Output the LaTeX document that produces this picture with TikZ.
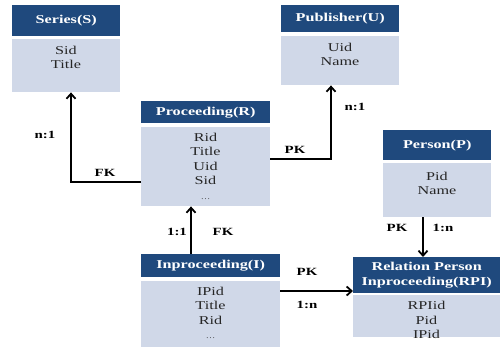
\documentclass[tikz,border=0pt]{standalone}
\usepackage{fontspec}
\setmainfont{Liberation Serif}[FakeStretch=1.35]
\usetikzlibrary{calc,arrows.meta}

\definecolor{hdrblue}{RGB}{31,73,125}
\definecolor{bodygray}{RGB}{208,216,232}

\tikzset{
	hdr/.style={fill=hdrblue, text=white, font=\bfseries\fontsize{12}{14.5}\selectfont, anchor=north west, inner sep=0pt, align=center},
	bodybox/.style={fill=bodygray, anchor=north west, inner sep=0pt},
	fields/.style={text=black!85, font=\fontsize{12}{14.5}\selectfont, align=center, inner sep=0pt},
	rel/.style={black, line width=1.8pt, -{Straight Barb[length=5pt,width=9pt]}},
	card/.style={font=\bfseries\fontsize{11}{13}\selectfont, inner sep=0pt}
}

\begin{document}
\begin{tikzpicture}[x=1pt, y=-1pt]
	
	\useasboundingbox (0,0) rectangle (502,349);
	
	% Series
	\node[hdr, minimum width=108pt, minimum height=31pt] (series) at (12,5) {Series(S)};
	\node[bodybox, minimum width=108pt, minimum height=53pt] (seriesbody) at (12,39) {};
	\node[fields] (seriestxt) at (66,57.5) {Sid\\Title};
	
	% Publisher
	\node[hdr, minimum width=118pt, minimum height=27pt] (pub) at (281,5) {Publisher(U)};
	\node[bodybox, minimum width=118pt, minimum height=49pt] (pubbody) at (281,36) {};
	\node[fields] (pubtxt) at (340,54.5) {Uid\\Name};
	
	% Proceeding
	\node[hdr, minimum width=129pt, minimum height=22pt] (proc) at (141,101) {Proceeding(R)};
	\node[bodybox, minimum width=129pt, minimum height=79pt] (procbody) at (141,127) {};
	\node[fields] (proctxt) at (205.5,166) {Rid\\Title\\Uid\\Sid\\{\scriptsize\dots}};
	
	% Person
	\node[hdr, minimum width=108pt, minimum height=30pt] (person) at (383,130) {Person(P)};
	\node[bodybox, minimum width=108pt, minimum height=54pt] (personbody) at (383,163) {};
	\node[fields] (persontxt) at (437,183.5) {Pid\\Name};
	
	% Inproceeding
	\node[hdr, minimum width=139pt, minimum height=23pt] (inproc) at (141,254) {Inproceeding(I)};
	\node[bodybox, minimum width=139pt, minimum height=66pt] (inprocbody) at (141,281) {};
	\node[fields] (inproctxt) at (210.5,313) {IPid\\Title\\Rid\\{\scriptsize\dots}};
	
	% Relation Person Inproceeding
	\node[hdr, minimum width=147pt, minimum height=36pt] (rpi) at (353,257) {Relation Person\\Inproceeding(RPI)};
	\node[bodybox, minimum width=147pt, minimum height=42pt] (rpibody) at (353,295) {};
	\node[fields] (rpitxt) at (426.5,320) {RPIid\\Pid\\IPid};
	
	% Connectors
	\coordinate (sbend) at (71,182);
	\coordinate (ubend) at (331,159);
	\draw[rel] (procbody.west |- sbend) -- (sbend) -- (sbend |- seriesbody.south);
	\draw[rel] (procbody.east |- ubend) -- (ubend) -- (ubend |- pubbody.south);
	\draw[rel] (inproc.north -| 191,0) -- (procbody.south -| 191,0);
	\draw[rel] (personbody.south -| 423,0) -- (rpi.north -| 423,0);
	\draw[rel] (inprocbody.east |- 0,291) -- (rpi.west |- 0,291);
	
	% Labels of the connectors
	\node[card] (l1) at (105,173) {FK};
	\node[card] (l2) at (45,135) {n:1};
	\node[card] (l3) at (295,150) {PK};
	\node[card] (l4) at (355,107) {n:1};
	\node[card] (l5) at (177,232) {1:1};
	\node[card] (l6) at (223,232) {FK};
	\node[card] (l7) at (397,228) {PK};
	\node[card] (l8) at (443,228) {1:n};
	\node[card] (l9) at (307,272) {PK};
	\node[card] (l10) at (307,305) {1:n};
	
\end{tikzpicture}
\end{document}
